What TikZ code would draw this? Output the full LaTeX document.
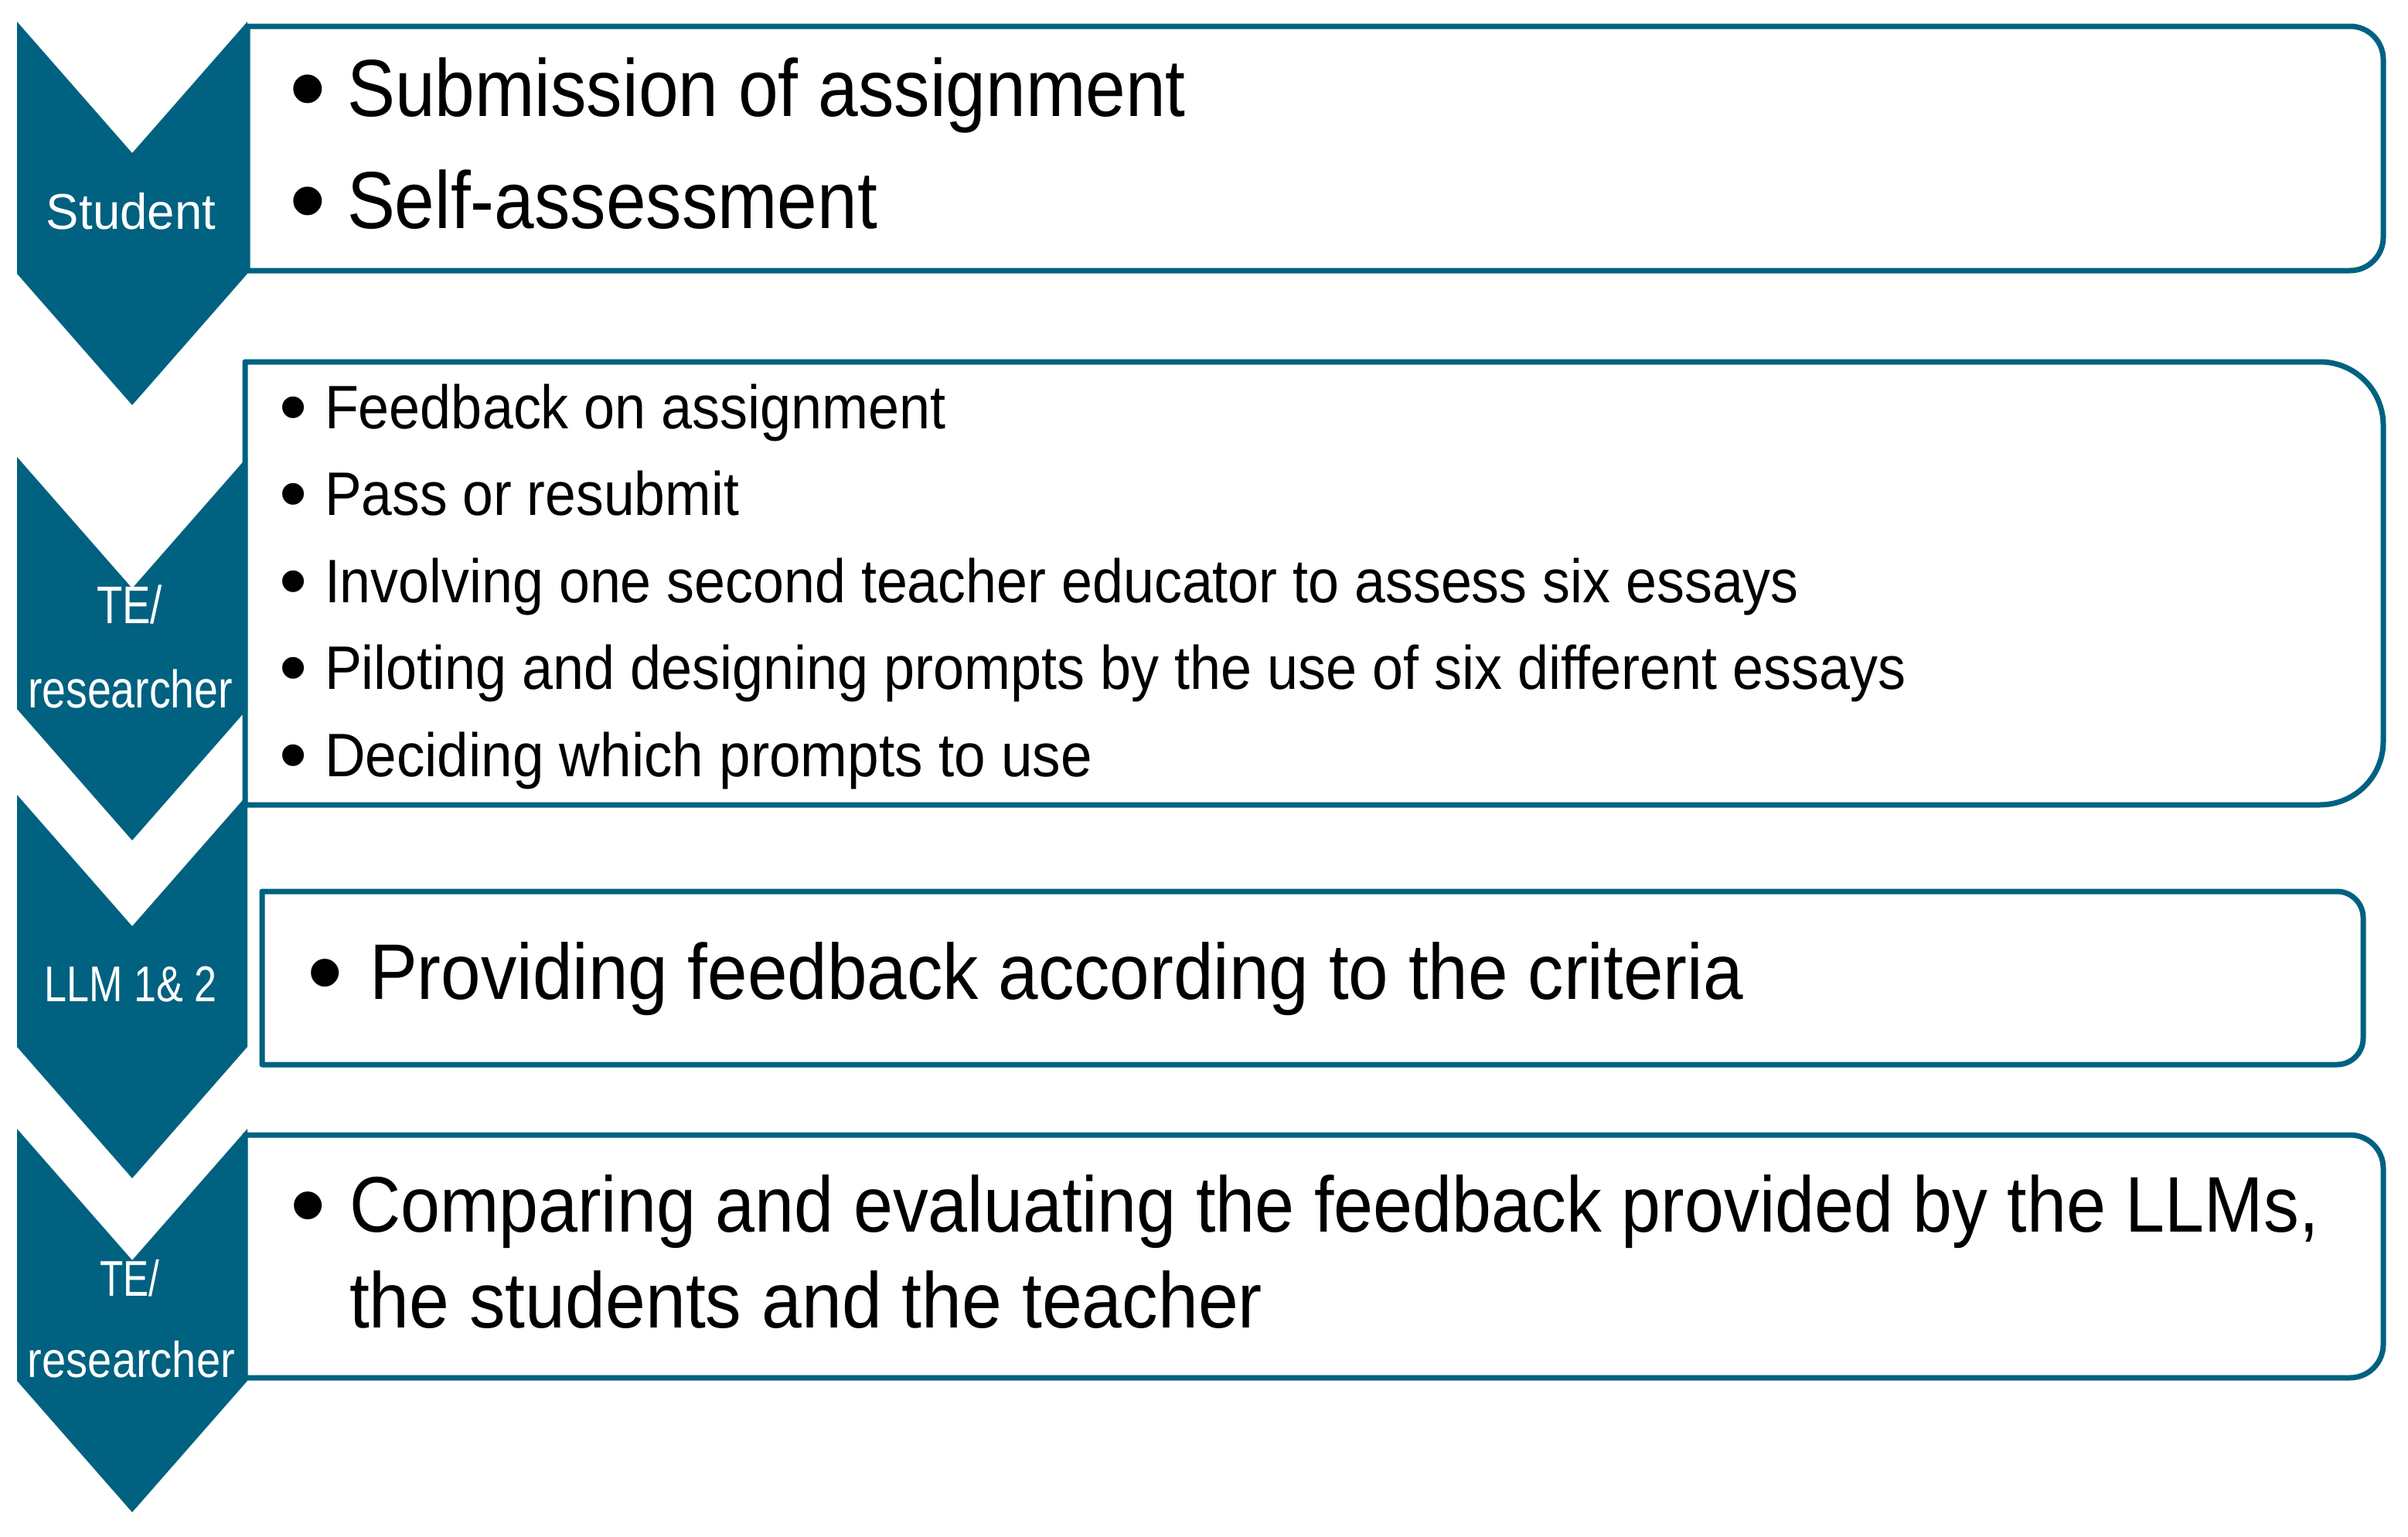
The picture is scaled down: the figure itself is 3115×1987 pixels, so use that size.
\documentclass[tikz,border=0pt]{standalone}
\usepackage{fontspec}
\setmainfont{Liberation Sans}
\usepackage{graphicx}
\definecolor{tealc}{RGB}{0,97,128}
\newlength\fitlen
\newcommand\fitw[2]{\settowidth\fitlen{#2}\pgfmathsetmacro\fitfac{#1*0.28453/\fitlen}\scalebox{\fitfac}[1]{#2}}
\newcommand\bigbul{\raisebox{-0.1em}{\scalebox{1.3}{•}}}
\newcommand\rbox[5]{% L T R B r
  \draw[boxline] (#1,#2) -- ({#3-#5},#2) arc[start angle=-90,end angle=0,radius=#5]
    -- (#3,{#4-#5}) arc[start angle=0,end angle=90,radius=#5] -- (#1,#4) -- cycle;}
\newcommand\chevron[1]{% top y
  \fill[chev] (22,#1) -- (171,{#1+170}) -- (320,#1) -- (320,{#1+326}) -- (171,{#1+496}) -- (22,{#1+326}) -- cycle;}
\tikzset{
  chev/.style={fill=tealc},
  boxline/.style={draw=tealc, line width=0.7mm, line join=round},
  itm/.style={anchor=base west, inner sep=0pt, outer sep=0pt, text=black},
  bigtxt/.style={itm, font=\fontsize{29.8pt}{31pt}\selectfont},
  midtxt/.style={itm, font=\fontsize{29pt}{31pt}\selectfont},
  smalltxt/.style={itm, font=\fontsize{22.6pt}{24pt}\selectfont},
  lbl/.style={anchor=base west, inner sep=0pt, outer sep=0pt, text=white, font=\fontsize{18.5pt}{20pt}\selectfont},
  lblb/.style={lbl, font=\fontsize{19.5pt}{21pt}\selectfont},
}
\begin{document}
\begin{tikzpicture}[x=0.1mm,y=-0.1mm]
\useasboundingbox (0,0) rectangle (3115,1987);
% boxes
\rbox{320}{34}{3083}{350}{43}
\rbox{317}{468}{3083}{1041}{82}
\rbox{339}{1153}{3057}{1377}{34}
\rbox{317}{1468}{3083}{1782}{43}
% chevrons
\chevron{28}
\chevron{591}
\chevron{1028}
\chevron{1460}
% chevron labels
\node[lbl] (l1) at (60,296) {\fitw{219}{Student}};
\node[lblb] (l2a) at (125,806) {\fitw{85}{TE/}};
\node[lblb] (l2b) at (36,915) {\fitw{265}{researcher}};
\node[lbl] (l3) at (58,1295) {\fitw{223}{LLM 1\& 2}};
\node[lbl] (l4a) at (129,1676) {\fitw{77}{TE/}};
\node[lbl] (l4b) at (36,1781) {\fitw{268}{researcher}};
% box 1
\node[bigtxt] (b1p1) at (374,150) {\bigbul};
\node[bigtxt] (b1t1) at (449,150) {\fitw{1085}{Submission of assignment}};
\node[bigtxt] (b1p2) at (374,295) {\bigbul};
\node[bigtxt] (b1t2) at (449,295) {\fitw{686}{Self-assessment}};
% box 2
\node[smalltxt] (b2p1) at (361,554) {\bigbul};
\node[smalltxt] (b2t1) at (420,554) {\fitw{804}{Feedback on assignment}};
\node[smalltxt] (b2p2) at (361,666) {\bigbul};
\node[smalltxt] (b2t2) at (420,666) {\fitw{536}{Pass or resubmit}};
\node[smalltxt] (b2p3) at (361,779) {\bigbul};
\node[smalltxt] (b2t3) at (420,779) {\fitw{1907}{Involving one second teacher educator to assess six essays}};
\node[smalltxt] (b2p4) at (361,891) {\bigbul};
\node[smalltxt] (b2t4) at (420,891) {\fitw{2046}{Piloting and designing prompts by the use of six different essays}};
\node[smalltxt] (b2p5) at (361,1004) {\bigbul};
\node[smalltxt] (b2t5) at (420,1004) {\fitw{993}{Deciding which prompts to use}};
% box 3
\node[midtxt] (b3p1) at (397,1292) {\bigbul};
\node[midtxt] (b3t1) at (478,1292) {\fitw{1777}{Providing feedback according to the criteria}};
% box 4
\node[midtxt] (b4p1) at (375,1593) {\bigbul};
\node[midtxt] (b4t1) at (452,1593) {\fitw{2548}{Comparing and evaluating the feedback provided by the LLMs,}};
\node[midtxt] (b4t2) at (452,1717) {\fitw{1181}{the students and the teacher}};
\end{tikzpicture}
\end{document}
